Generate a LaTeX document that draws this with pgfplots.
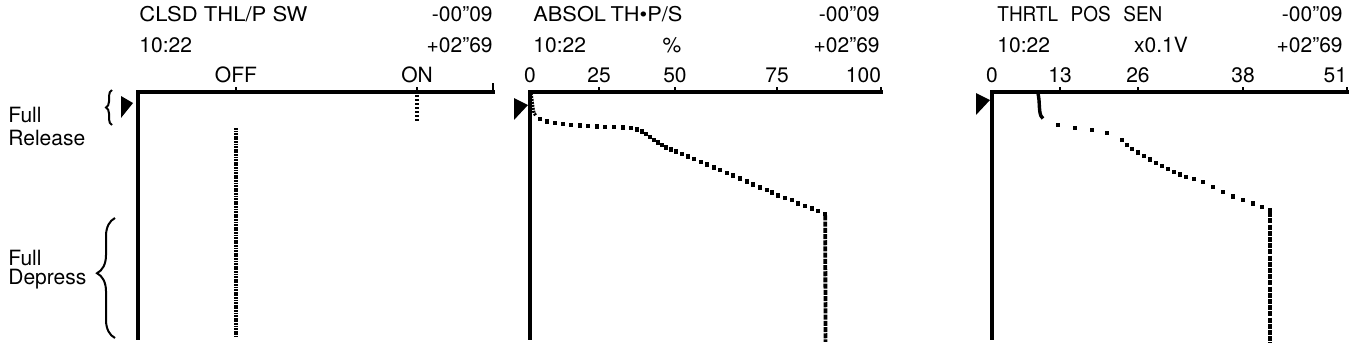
\documentclass[border=0pt]{standalone}
\usepackage{fontspec}
\setmainfont{TeX Gyre Heros}
\usepackage{graphicx}
\usepackage{pgfplots}
\pgfplotsset{compat=1.18}
\usetikzlibrary{decorations.pathreplacing}
\newcommand\ff{\fontsize{10.5}{12}\selectfont}
\pgfplotsset{
 scanpanel/.style={
  scale only axis, height=123pt,
  axis x line*=top, axis y line*=left,
  y dir=reverse, ymin=-0.09, ymax=2.69,
  ytick=\empty,
  axis line style={line width=1.8pt, line cap=rect, black},
  tick align=outside,
  major tick length=2.5pt,
  tick style={line width=1.2pt, black},
  tick label style={font=\ff, inner sep=0pt},
  xticklabel shift=2pt,
  clip=false,
  anchor=center,
 },
 dots/.style={only marks, mark=square*, mark size=0.85pt, black},
 vtrace/.style={no markers, black, line width=1.9pt, dash pattern=on 2.5pt off 0.6pt},
}
\begin{document}
\begin{tikzpicture}
\path[use as bounding box] (0,0) rectangle (680pt,175pt);
% ---------------- Panel 1: CLSD THL/P SW
\begin{axis}[scanpanel, at={(157.75pt,67.5pt)}, width=177.5pt,
  xmin=0, xmax=1,
  xtick={0.276,0.786}, xticklabels={OFF,ON},
  extra x ticks={1}, extra x tick labels={}, extra x tick style={major tick length=4.5pt}]
\addplot[no markers, black, line width=1.6pt, dash pattern=on 1pt off 1pt] coordinates {(0.786,-0.056) (0.786,0.249)};
\addplot[no markers, black, line width=1.8pt, dash pattern=on 0.9pt off 0.4pt] coordinates {(0.276,0.317) (0.276,2.679)};
\fill ([xshift=-2.5pt,yshift=-5.5pt]axis description cs:0,1) -- ++(-6pt,3.5pt) -- ++(0,-7pt) -- cycle;
\end{axis}
% ---------------- Panel 2: ABSOL TH.P/S
\begin{axis}[scanpanel, at={(352.75pt,67.5pt)}, width=175.5pt,
  xmin=0, xmax=100,
  xtick={19.7,41.3,70.4,100}, xticklabels={25,50,75,{\llap{100}}},
  extra x ticks={0}, extra x tick labels={0},
  extra x tick style={major tick length=0pt, xticklabel shift=4.5pt}]
\addplot[no markers, black, line width=1.6pt, dash pattern=on 1pt off 0.5pt] coordinates {
(0.28,-0.079) (0.57,0.000) (0.85,0.091) (1.14,0.147) (1.71,0.181)};
\addplot[dots] coordinates {
(2.85,0.215) (4.84,0.243) (7.12,0.260) (9.40,0.272) (11.68,0.280) (14.25,0.289)
(16.52,0.294) (19.09,0.300) (21.37,0.302) (23.93,0.306) (26.50,0.311) (28.77,0.317)
(30.48,0.334) (31.91,0.356) (33.05,0.385) (34.19,0.419) (35.33,0.452) (36.47,0.481)
(37.61,0.509) (38.75,0.537) (40.17,0.560) (41.60,0.582)
(43.30,0.611) (45.01,0.639) (46.72,0.667) (48.72,0.701) (50.43,0.729) (52.42,0.763)
(54.13,0.791) (56.13,0.825) (57.83,0.854) (59.83,0.888) (61.82,0.921) (63.53,0.955)
(65.53,0.989) (67.52,1.017) (68.95,1.043) (70.66,1.077) (72.65,1.105) (74.64,1.130)
(76.35,1.168) (78.35,1.195) (80.34,1.224) (82.05,1.255) (84.05,1.289)};
\addplot[vtrace] coordinates {(84.1,1.305) (84.2,2.735)};
\fill ([xshift=-1pt,yshift=-6.5pt]axis description cs:0,1) -- ++(-7pt,3.5pt) -- ++(0,-7pt) -- cycle;
\end{axis}
% ---------------- Panel 3: THRTL POS SEN
\begin{axis}[scanpanel, at={(584.75pt,67.5pt)}, width=177.5pt,
  xmin=0, xmax=51,
  xtick={9.77,20.97,36.06,51}, xticklabels={13,26,38,{\llap{51}}},
  extra x ticks={0}, extra x tick labels={0},
  extra x tick style={major tick length=0pt, xticklabel shift=4.5pt}]
\addplot[no markers, black, line width=1.7pt, smooth] coordinates {
(6.61,-0.079) (6.75,0.000) (6.82,0.091) (6.90,0.147) (7.04,0.181) (7.33,0.209)};
\addplot[dots] coordinates {
(9.48,0.283) (11.92,0.317) (14.37,0.339) (16.52,0.373) (18.68,0.452) (19.39,0.509)
(20.11,0.554) (20.97,0.594) (21.84,0.633) (22.70,0.673) (23.56,0.712) (24.42,0.746)
(25.28,0.780) (26.15,0.814) (27.01,0.842) (27.87,0.871) (29.02,0.893) (30.31,0.927)
(31.75,0.984) (33.19,1.040) (34.62,1.091) (36.06,1.130) (37.50,1.170) (38.79,1.210)
(39.94,1.249)};
\addplot[vtrace] coordinates {(39.94,1.268) (39.94,2.747)};
\fill ([xshift=-1pt,yshift=-4pt]axis description cs:0,1) -- ++(-7pt,3.5pt) -- ++(0,-7pt) -- cycle;
\end{axis}
% ---------------- titles
\begin{scope}[every node/.style={font=\ff, inner sep=0pt}]
\node[anchor=base west] at (69.5pt,164.5pt) {\resizebox{84pt}{7.6pt}{CLSD THL/P SW}};
\node[anchor=base east] at (246.5pt,164.5pt) {-00"09};
\node[anchor=base west] at (69.5pt,149pt) {10:22};
\node[anchor=base east] at (246.5pt,149pt) {+02"69};
\node[anchor=base west] at (266.5pt,164.5pt) {\resizebox{74.5pt}{7.6pt}{ABSOL\hspace{2.2pt}TH•P/S}};
\node[anchor=base east] at (440pt,164.5pt) {-00"09};
\node[anchor=base west] at (266.5pt,149pt) {10:22};
\node[anchor=base] at (336pt,149pt) {\%};
\node[anchor=base east] at (440pt,149pt) {+02"69};
\node[anchor=base west] at (498.5pt,164.5pt) {\resizebox{82.5pt}{7.6pt}{THRTL\hspace{7pt}POS\hspace{7pt}SEN}};
\node[anchor=base east] at (671.5pt,164.5pt) {-00"09};
\node[anchor=base west] at (498.5pt,149pt) {10:22};
\node[anchor=base] at (580.5pt,149pt) {x0.1V};
\node[anchor=base east] at (671.5pt,149pt) {+02"69};
% left labels
\node[anchor=base west] at (4pt,114pt) {Full};
\node[anchor=base west] at (4pt,102.5pt) {Release};
\node[anchor=base west] at (4pt,42.5pt) {Full};
\node[anchor=base west] at (4pt,33pt) {Depress};
\end{scope}
\draw[line width=1pt, decorate, decoration={brace, amplitude=3pt}] (56pt,112.5pt) -- (56pt,130pt);
\draw[line width=1pt, decorate, decoration={brace, amplitude=9pt, aspect=0.54}] (57.5pt,6pt) -- (57.5pt,66pt);
\end{tikzpicture}
\end{document}
